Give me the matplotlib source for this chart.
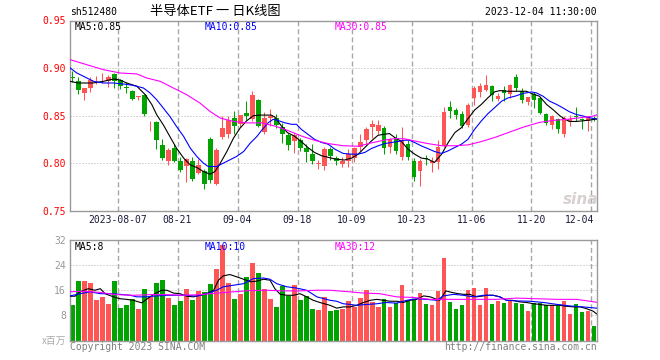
import matplotlib
matplotlib.use('Agg')
import matplotlib.pyplot as plt
from matplotlib.transforms import blended_transform_factory

# daily OHLC, 2023-07-26 .. 2023-12-04 (88 trading days)
opens = [0.8899, 0.8868, 0.8736, 0.8792, 0.8882, 0.8882, 0.8861, 0.8940, 0.8872, 0.8795,
         0.8764, 0.8702, 0.8715, 0.8441, 0.8438, 0.8194, 0.8021, 0.8160, 0.8021, 0.7976,
         0.8021, 0.7899, 0.7917, 0.8253, 0.7785, 0.8278, 0.8306, 0.8472, 0.8413, 0.8524,
         0.8462, 0.8663, 0.8333, 0.8472, 0.8472, 0.8382, 0.8299, 0.8236, 0.8243, 0.8160,
         0.8097, 0.7990, 0.7976, 0.8156, 0.8056, 0.7990, 0.8021, 0.8056, 0.8174, 0.8243,
         0.8382, 0.8340, 0.8368, 0.8174, 0.8271, 0.8069, 0.8201, 0.8021, 0.7917, 0.8049,
         0.8000, 0.8010, 0.8184, 0.8590, 0.8556, 0.8521, 0.8403, 0.8688, 0.8750, 0.8774,
         0.8809, 0.8681, 0.8774, 0.8729, 0.8903, 0.8764, 0.8646, 0.8729, 0.8688, 0.8514,
         0.8403, 0.8462, 0.8306, 0.8444, 0.8493, 0.8458, 0.8444, 0.8472]
highs = [0.8966, 0.8903, 0.8795, 0.8906, 0.8913, 0.8951, 0.8930, 0.8944, 0.8885, 0.8854,
         0.8774, 0.8705, 0.8729, 0.8444, 0.8444, 0.8258, 0.8160, 0.8201, 0.8063, 0.8052,
         0.8063, 0.8045, 0.7941, 0.8278, 0.8160, 0.8497, 0.8497, 0.8549, 0.8510, 0.8653,
         0.8757, 0.8677, 0.8542, 0.8566, 0.8514, 0.8427, 0.8323, 0.8323, 0.8271, 0.8201,
         0.8208, 0.8035, 0.8167, 0.8167, 0.8080, 0.8063, 0.8149, 0.8174, 0.8306, 0.8382,
         0.8451, 0.8451, 0.8392, 0.8271, 0.8313, 0.8382, 0.8243, 0.8056, 0.8045, 0.8090,
         0.8063, 0.8243, 0.8590, 0.8660, 0.8583, 0.8549, 0.8635, 0.8809, 0.8844, 0.8924,
         0.8826, 0.8740, 0.8809, 0.8833, 0.8938, 0.8792, 0.8694, 0.8750, 0.8694, 0.8531,
         0.8507, 0.8472, 0.8496, 0.8507, 0.8590, 0.8472, 0.8496, 0.8496]
lows = [0.8854, 0.8729, 0.8670, 0.8750, 0.8833, 0.8840, 0.8806, 0.8792, 0.8785, 0.8740,
        0.8670, 0.8663, 0.8497, 0.8340, 0.8149, 0.8035, 0.7986, 0.8010, 0.7906, 0.7802,
        0.7813, 0.7889, 0.7733, 0.7792, 0.7778, 0.8253, 0.8271, 0.8306, 0.8380, 0.8451,
        0.8440, 0.8382, 0.8313, 0.8392, 0.8368, 0.8219, 0.8139, 0.8104, 0.8132, 0.8010,
        0.7993, 0.7941, 0.7931, 0.8035, 0.7983, 0.7965, 0.7965, 0.8010, 0.8132, 0.8208,
        0.8271, 0.8306, 0.8097, 0.8104, 0.8097, 0.8035, 0.8035, 0.7813, 0.7767, 0.7986,
        0.7906, 0.7941, 0.8174, 0.8472, 0.8462, 0.8368, 0.8382, 0.8618, 0.8694, 0.8757,
        0.8660, 0.8660, 0.8660, 0.8688, 0.8764, 0.8635, 0.8611, 0.8583, 0.8514, 0.8403,
        0.8361, 0.8323, 0.8281, 0.8392, 0.8444, 0.8361, 0.8340, 0.8444]
closes = [0.8893, 0.8767, 0.8792, 0.8878, 0.8886, 0.8886, 0.8910, 0.8861, 0.8809, 0.8790,
          0.8680, 0.8705, 0.8514, 0.8444, 0.8243, 0.8056, 0.8139, 0.8021, 0.7931, 0.8045,
          0.7837, 0.7986, 0.7785, 0.7826, 0.8139, 0.8368, 0.8458, 0.8392, 0.8505, 0.8497,
          0.8722, 0.8392, 0.8472, 0.8497, 0.8403, 0.8306, 0.8194, 0.8299, 0.8160, 0.8122,
          0.8021, 0.7993, 0.8156, 0.8080, 0.8021, 0.8021, 0.8097, 0.8160, 0.8229, 0.8358,
          0.8410, 0.8399, 0.8160, 0.8253, 0.8132, 0.8243, 0.8069, 0.7861, 0.8021, 0.8045,
          0.8028, 0.8167, 0.8542, 0.8549, 0.8507, 0.8392, 0.8611, 0.8792, 0.8809, 0.8826,
          0.8722, 0.8705, 0.8740, 0.8819, 0.8792, 0.8663, 0.8694, 0.8663, 0.8531, 0.8427,
          0.8496, 0.8358, 0.8479, 0.8462, 0.8490, 0.8455, 0.8486, 0.8468]
# volume, millions
volumes = [11.2, 18.9, 18.9, 18.3, 12.8, 13.9, 11.5, 19.0, 10.2, 11.2,
           13.3, 10.0, 16.3, 13.9, 18.2, 19.3, 13.5, 11.2, 12.5, 16.3,
           12.8, 15.8, 15.5, 17.9, 22.8, 30.5, 18.3, 13.1, 14.7, 20.2,
           24.6, 21.4, 16.3, 13.1, 10.6, 17.3, 14.1, 17.6, 12.8, 14.1,
           9.9, 9.6, 13.8, 9.3, 9.6, 9.9, 12.5, 10.6, 13.5, 16.0,
           12.3, 10.6, 13.1, 10.6, 11.9, 17.6, 12.8, 12.8, 15.0, 11.5,
           11.2, 15.7, 26.2, 12.2, 9.9, 11.2, 16.0, 16.6, 11.2, 16.6,
           11.5, 12.5, 11.8, 12.5, 11.8, 11.5, 9.3, 11.8, 11.8, 11.2,
           11.2, 10.9, 12.5, 8.3, 11.5, 9.0, 9.3, 4.5]

# moving average lines: (day index, value)
ma5 = [(-0.33, 0.8861), (1, 0.8844), (2.5, 0.8844), (3.5, 0.8844), (5.2, 0.8861), (6.9, 0.8886),
       (8, 0.8875), (9.1, 0.8844), (10.8, 0.8809), (12.2, 0.8721), (13.3, 0.8616), (14.1, 0.8511),
       (15.2, 0.8405), (16.3, 0.8282), (17.4, 0.8160), (18.6, 0.8055), (19.7, 0.7984), (20.8, 0.7956),
       (21.9, 0.7914), (23, 0.7886), (23.8, 0.7914), (24.7, 0.8002), (25.8, 0.8125), (26.9, 0.8265),
       (28, 0.8370), (29.1, 0.8447), (30.2, 0.8500), (31.3, 0.8507), (33.2, 0.8507), (33.8, 0.8486),
       (34.9, 0.8392), (35.9, 0.8323), (37, 0.8288), (38.2, 0.8229), (39.3, 0.8167), (40.4, 0.8115),
       (41.6, 0.8080), (42.7, 0.8063), (43.9, 0.8045), (45.4, 0.8035), (46.6, 0.8056), (47.7, 0.8097),
       (48.8, 0.8167), (49.9, 0.8236), (51, 0.8295), (52.1, 0.8306), (52.9, 0.8313), (53.8, 0.8271),
       (54.9, 0.8229), (56, 0.8149), (57.1, 0.8097), (58.2, 0.8056), (59.3, 0.8045), (60.4, 0.8010),
       (61.6, 0.8097), (62.7, 0.8219), (63.8, 0.8323), (64.9, 0.8375), (66, 0.8470), (67.1, 0.8560),
       (68.2, 0.8618), (69.3, 0.8688), (70.4, 0.8750), (71.3, 0.8764), (72.7, 0.8757), (74.9, 0.8757),
       (75.7, 0.8757), (76.8, 0.8729), (77.9, 0.8705), (79.1, 0.8618), (80.2, 0.8563), (81.3, 0.8500),
       (82.1, 0.8465), (82.9, 0.8440), (84, 0.8440), (85.2, 0.8447), (86.3, 0.8455), (87.4, 0.8465)]
ma10 = [(-0.33, 0.9002), (0.78, 0.8949), (1.9, 0.8914), (3.6, 0.8861), (5.2, 0.8844), (6.9, 0.8844),
        (8.6, 0.8833), (10.2, 0.8819), (11.9, 0.8791), (13, 0.8739), (14.1, 0.8668), (15.2, 0.8581),
        (16.3, 0.8493), (17.4, 0.8388), (18.6, 0.8282), (19.7, 0.8160), (20.8, 0.8072), (21.9, 0.8002),
        (22.7, 0.7967), (24.1, 0.7967), (25.2, 0.8002), (26.3, 0.8037), (27.4, 0.8072), (28.6, 0.8125),
        (29.7, 0.8213), (30.8, 0.8282), (31.6, 0.8347), (32.7, 0.8427), (33.5, 0.8462), (34.3, 0.8451),
        (35.4, 0.8427), (36.6, 0.8410), (37.4, 0.8410), (38.2, 0.8358), (39.3, 0.8306), (40.4, 0.8253),
        (41.6, 0.8219), (42.7, 0.8201), (43.8, 0.8149), (45.2, 0.8104), (46.6, 0.8097), (47.7, 0.8097),
        (48.8, 0.8115), (49.9, 0.8156), (51, 0.8184), (52.1, 0.8208), (53.2, 0.8219), (54.3, 0.8229),
        (55.4, 0.8243), (56.2, 0.8243), (57.1, 0.8219), (58.2, 0.8184), (59.3, 0.8155), (60.4, 0.8125),
        (61.6, 0.8104), (62.7, 0.8132), (63.8, 0.8167), (64.9, 0.8201), (66, 0.8253), (67.1, 0.8358),
        (68.2, 0.8444), (69.3, 0.8521), (70.4, 0.8583), (71.6, 0.8653), (72.7, 0.8688), (73.8, 0.8705),
        (75.2, 0.8735), (76.6, 0.8750), (77.4, 0.8740), (78.5, 0.8705), (79.6, 0.8653), (80.8, 0.8618),
        (81.8, 0.8583), (82.9, 0.8542), (84, 0.8514), (85.2, 0.8497), (86.3, 0.8479), (87.5, 0.8465)]
ma30 = [(-0.33, 0.9089), (2.4, 0.9037), (5.2, 0.8984), (8, 0.8949), (10.8, 0.8939), (12.4, 0.8897),
        (14.7, 0.8861), (16.9, 0.8791), (19.1, 0.8721), (21.3, 0.8634), (23, 0.8545), (24.7, 0.8476),
        (26.9, 0.8440), (29.1, 0.8425), (31.6, 0.8425), (33.8, 0.8392), (35.9, 0.8347), (38.2, 0.8288),
        (40.4, 0.8243), (42.7, 0.8208), (45.2, 0.8185), (47.7, 0.8180), (49.9, 0.8215), (52.1, 0.8245),
        (53.8, 0.8260), (55.4, 0.8258), (57.6, 0.8229), (59.3, 0.8208), (61.6, 0.8185), (63.8, 0.8185),
        (66, 0.8194), (68.2, 0.8229), (70.4, 0.8271), (72.7, 0.8323), (75.2, 0.8380), (77.9, 0.8430),
        (80.2, 0.8451), (82.4, 0.8462), (84.6, 0.8479), (86.8, 0.8496), (87.7, 0.8514)]
vol_ma5 = [(-0.33, 14.1), (0.5, 14.1), (1.3, 15.5), (2.7, 16.5), (3.8, 16.0), (4.7, 16.5), (5.5, 14.9),
           (6.9, 13.9), (8, 13.3), (9.1, 13.1), (10.2, 12.8), (11.6, 12.0), (12.7, 13.5), (13.8, 14.9),
           (14.9, 16.0), (15.8, 16.0), (16.9, 15.1), (18, 14.9), (19.1, 14.1), (20.2, 13.9), (21.3, 14.4),
           (22.4, 14.9), (23.6, 16.0), (24.4, 19.2), (25.2, 20.6), (26.3, 21.0), (27.4, 20.3), (28.6, 19.5),
           (29.7, 18.7), (30.8, 18.9), (31.9, 19.5), (33, 19.2), (33.8, 16.5), (34.7, 14.7), (35.8, 14.4),
           (36.9, 14.4), (38, 14.9), (39.1, 13.9), (40.2, 12.8), (41.3, 12.1), (43, 11.2), (44.1, 10.3),
           (45.2, 10.7), (46.3, 10.7), (47.4, 11.2), (48.6, 12.1), (49.7, 12.8), (50.8, 13.1), (51.9, 12.8),
           (53, 12.5), (54.1, 12.5), (55.2, 12.1), (56.3, 12.8), (57.4, 13.1), (58.6, 14.2), (59.7, 13.9),
           (60.8, 13.1), (61.3, 12.8), (62.3, 15.8), (63.3, 15.3), (64.4, 14.9), (65.2, 14.7), (66.3, 14.7),
           (67.4, 13.9), (68.6, 14.2), (69.1, 14.4), (70.2, 14.4), (71.3, 13.9), (72.4, 12.8), (73.4, 12.8),
           (74.6, 12.3), (75.8, 12.1), (76.9, 11.7), (77.9, 11.5), (79.1, 11.2), (80.2, 11.2), (81.3, 11.2),
           (82.4, 10.9), (83.6, 10.7), (84.7, 10.7), (85.8, 10.1), (86.9, 9.3), (87.4, 8.5)]
vol_ma10 = [(-0.33, 14.2), (1.3, 14.9), (3, 15.5), (4.7, 14.9), (6.3, 14.9), (8, 14.7), (9.7, 14.4),
            (10.8, 13.9), (12.4, 13.9), (14.1, 14.2), (15.8, 14.4), (17.4, 14.4), (19.1, 14.4), (20.8, 14.1),
            (22.4, 14.9), (24.1, 16.0), (25.2, 17.1), (26.9, 17.6), (28.6, 18.1), (30.2, 19.7), (31.9, 19.9),
            (33, 19.5), (34.1, 18.1), (35.8, 17.1), (37.4, 16.7), (39.1, 16.0), (40.8, 13.9), (43, 12.8),
            (44.1, 12.5), (45.2, 11.7), (46.3, 11.5), (47.4, 11.2), (48.6, 11.4), (50.8, 11.7), (52.3, 12.1),
            (54.1, 11.9), (55.8, 12.8), (57.4, 13.3), (59.1, 13.1), (60.8, 12.8), (61.9, 14.2), (63.6, 14.7),
            (65.2, 14.4), (66.9, 13.9), (68.6, 14.4), (70.2, 14.4), (71.3, 13.9), (72.4, 12.8), (74.1, 12.6),
            (76.3, 12.5), (78.6, 12.1), (80.8, 11.5), (83, 11.0), (85.2, 10.7), (87.4, 10.3)]
vol_ma30 = [(-0.33, 15.5), (1.9, 15.7), (4.7, 15.3), (7.4, 14.6), (10.2, 14.4), (13, 14.6), (15.8, 14.6),
            (18.6, 14.4), (21.3, 14.6), (24.1, 15.1), (26.9, 15.5), (29.7, 15.9), (32.4, 16.0), (35.2, 15.8),
            (38, 15.8), (40.8, 16.0), (43, 16.0), (46.3, 15.5), (48.6, 15.1), (51.3, 14.9), (54.1, 13.9),
            (56.9, 13.7), (59.7, 13.1), (61.9, 13.1), (65.2, 13.1), (68, 13.1), (70.8, 13.1), (74.1, 13.5),
            (77.4, 13.3), (80.8, 13.1), (84.1, 13.1), (86.3, 12.5), (87.7, 12.1)]

tick_days = [8, 18, 28, 38, 47, 57, 67, 77, 87]
tick_labels = ['2023-08-07', '08-21', '09-04', '09-18', '10-09', '10-23', '11-06', '11-20', '12-04']
price_ticks = [0.75, 0.80, 0.85, 0.90, 0.95]
vol_ticks = [8, 16, 24, 32]

RED = '#ff5555'
GREEN = '#00a300'
MONO = 'DejaVu Sans Mono'
CJK = ['Noto Sans CJK SC', 'DejaVu Sans']
W, H = 660, 360

fig = plt.figure(figsize=(6.6, 3.6), dpi=100)
ax = fig.add_axes([70 / W, 1 - 211 / H, 527 / W, 190.5 / H])
axv = fig.add_axes([70 / W, 1 - 340.5 / H, 527 / W, 100.5 / H])

x = list(range(len(closes)))
cols = [RED if c >= o else GREEN for o, c in zip(opens, closes)]

for a in (ax, axv):
    a.set_xlim(-0.35, 87.5)
    for s in a.spines.values():
        s.set_color('#9a9a9a')
        s.set_linewidth(1.0)
    a.set_xticks([])
    a.tick_params(axis='y', length=0, pad=3, labelsize=7)
    for d in tick_days:
        a.axvline(d - 0.42, color='#a8a8a8', lw=1.0, ls=(0, (3.6, 2.2)), zorder=0)

# price panel
ax.set_ylim(0.75, 0.95)
for p in price_ticks[1:-1]:
    ax.axhline(p, color='#b0b0b0', lw=0.72, ls=(0, (1, 2)), zorder=0)
ax.set_yticks(price_ticks)
ax.set_yticklabels(['%.2f' % p for p in price_ticks], color='#ff0000', family=MONO)

ax.vlines(x, lows, highs, colors=cols, lw=0.75, zorder=2)
body_low = [min(o, c) for o, c in zip(opens, closes)]
body_h = [max(abs(c - o), 0.0009) for o, c in zip(opens, closes)]
ax.bar(x, body_h, bottom=body_low, width=0.82, color=cols, linewidth=0, zorder=2)

for pts, col in ((ma5, 'black'), (ma10, '#0000ff'), (ma30, '#ff00ff')):
    ax.plot([p[0] for p in pts], [p[1] for p in pts], color=col, lw=0.8, zorder=3)

# volume panel
axv.set_ylim(0, 32)
for v in vol_ticks[:-1]:
    axv.axhline(v, color='#b0b0b0', lw=0.72, ls=(0, (1, 2)), zorder=0)
axv.set_yticks(vol_ticks)
axv.set_yticklabels([str(v) for v in vol_ticks], color='#999999', family=MONO)
axv.bar(x, volumes, width=0.82, color=cols, linewidth=0, zorder=2)
for pts, col in ((vol_ma5, 'black'), (vol_ma10, '#0000ff'), (vol_ma30, '#ff00ff')):
    axv.plot([p[0] for p in pts], [p[1] for p in pts], color=col, lw=0.8, zorder=3)

# date labels between the panels
tr = blended_transform_factory(ax.transData, ax.transAxes)
for d, lab in zip(tick_days, tick_labels):
    ha = 'right' if d == tick_days[-1] else 'center'
    xx = d - 0.42 + (0.4 if ha == 'right' else 0)
    ax.text(xx, -0.047, lab, transform=tr, ha=ha, va='center',
            fontsize=7, family=MONO, color='#1a1a3a')


def ftext(px, py, s, **kw):
    fig.text(px / W, 1 - py / H, s, va='center', **kw)


ftext(70, 12, 'sh512480', fontsize=7, family=MONO, color='black')
ftext(150, 12, '半导体ETF 一 日K线图', fontsize=9.5, family=CJK, color='black')
ftext(597, 12, '2023-12-04 11:30:00', fontsize=7, family=MONO, color='black', ha='right')

ftext(75, 27, 'MA5:0.85', fontsize=7, family=MONO, color='black')
ftext(205, 27, 'MA10:0.85', fontsize=7, family=MONO, color='#0000ff')
ftext(335, 27, 'MA30:0.85', fontsize=7, family=MONO, color='#ff00ff')

ftext(75, 247, 'MA5:8', fontsize=7, family=MONO, color='black')
ftext(205, 247, 'MA10:10', fontsize=7, family=MONO, color='#0000ff')
ftext(335, 247, 'MA30:12', fontsize=7, family=MONO, color='#ff00ff')

ftext(66, 341, 'x百万', fontsize=7, family=CJK, color='#aaaaaa', ha='right')
ftext(70, 347, 'Copyright 2023 SINA.COM', fontsize=7, family=MONO, color='#808080')
ftext(597, 347, 'http://finance.sina.com.cn', fontsize=7, family=MONO, color='#808080', ha='right')

# faint sina watermark
ftext(581, 199, 'sina', fontsize=11, family='DejaVu Sans', style='italic', weight='bold',
      color='#cfc4c4', ha='center', alpha=0.8)

fig.savefig('out.png', dpi=100)
